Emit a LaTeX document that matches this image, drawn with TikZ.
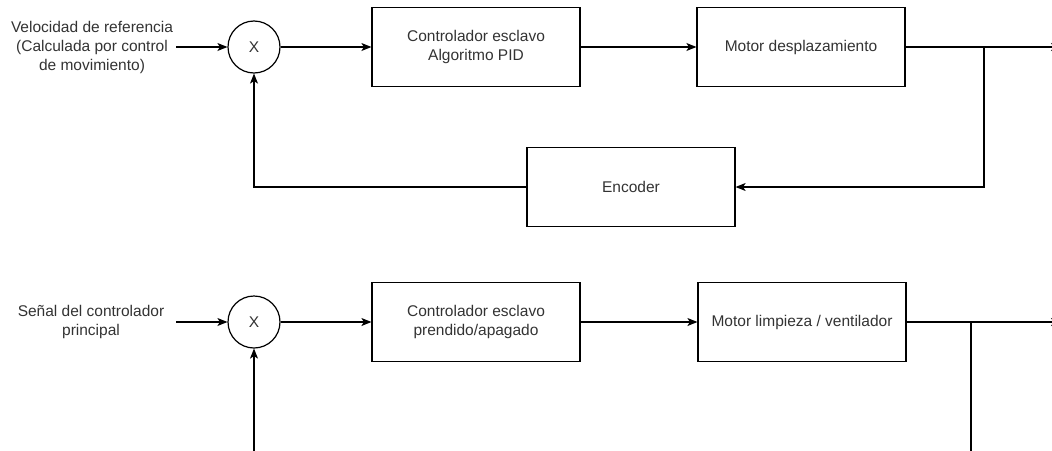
\documentclass[tikz,border=0pt]{standalone}
\usepackage{fontspec}
\setmainfont{Liberation Sans}
\usepackage{xcolor}
\usepackage{tikz}
\usetikzlibrary{arrows.meta, positioning, calc}

\definecolor{txtgray}{HTML}{333333}

\tikzset{
    block/.style={draw, rectangle, line width=1.2pt, minimum width=208pt, minimum height=79pt, align=center, text=txtgray},
    mult/.style={draw, circle, line width=1.2pt, minimum size=52pt, inner sep=0pt, text=txtgray},
    label/.style={align=center, text=txtgray, inner sep=2pt},
    flow/.style={line width=1.2pt, -{Stealth[length=10pt, width=8pt, inset=2.5pt]}},
    wire/.style={line width=1.2pt}
}

\begin{document}
\begin{tikzpicture}[x=1pt, y=-1pt, font=\fontsize{15.5}{19}\selectfont]
    \useasboundingbox (0,0) rectangle (1052,450);

    % Speed loop
    \node[label] (ref1) at (92,47) {Velocidad de referencia\\(Calculada por control\\de movimiento)};
    \node[mult] (sum1) at (254,47) {X};
    \node[block] (pid) at (476,47) {Controlador esclavo\\Algoritmo PID};
    \node[block] (mot1) at (801,47) {Motor desplazamiento};
    \node[block] (enc) at (631,187) {Encoder};

    \coordinate (in1) at (176,47);
    \coordinate (j1) at (984,47);
    \coordinate (out1) at (1061,47);

    % Arrows
    \draw[flow] (in1) -- (sum1);
    \draw[flow] (sum1) -- (pid);
    \draw[flow] (pid) -- (mot1);
    \draw[flow] (mot1.east) -- (out1);
    \draw[flow] (j1) |- (enc.east);
    \draw[flow] (enc.west) -| (sum1.south);

    % On/off loop
    \node[label] (ref2) at (91,322) {Señal del controlador\\principal};
    \node[mult] (sum2) at (254,322) {X};
    \node[block] (onoff) at (476,322) {Controlador esclavo\\prendido/apagado};
    \node[block] (mot2) at (802,322) {Motor limpieza / ventilador};

    \coordinate (in2) at (176,322);
    \coordinate (j2) at (971,322);
    \coordinate (out2) at (1061,322);
    \coordinate (down2) at (971,452);
    \coordinate (up2) at (254,452);

    \draw[flow] (in2) -- (sum2);
    \draw[flow] (sum2) -- (onoff);
    \draw[flow] (onoff) -- (mot2);
    \draw[flow] (mot2.east) -- (out2);
    \draw[wire] (j2) -- (down2);
    \draw[flow] (up2) -- (sum2.south);
\end{tikzpicture}
\end{document}
